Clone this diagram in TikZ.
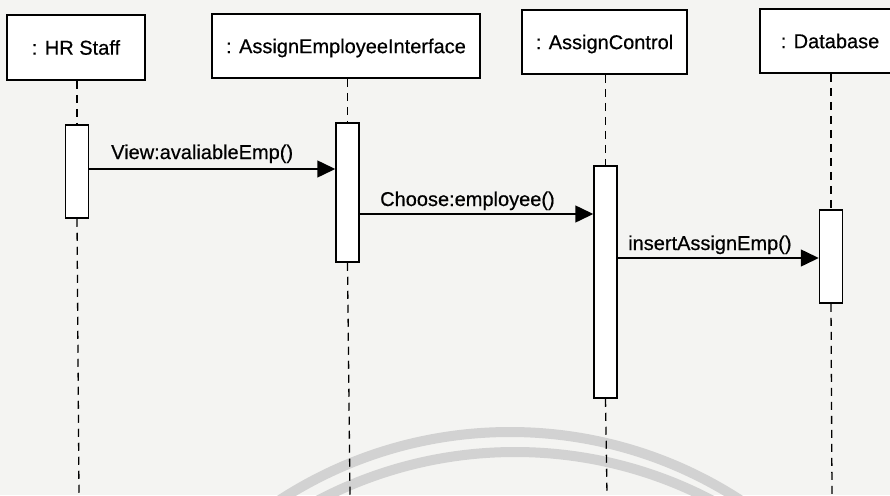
\documentclass[tikz,border=0pt]{standalone}
\usepackage{fontspec}
\setmainfont[FakeBold=0.5]{Liberation Sans}
\usetikzlibrary{arrows.meta}
\definecolor{paper}{RGB}{244,244,242}
\definecolor{wmark}{RGB}{210,210,210}
\begin{document}
\begin{tikzpicture}[x=1pt,y=-1pt,
  obj/.style={draw,line width=1.5pt,fill=white,inner sep=0pt,text height=14.3pt,text depth=0pt,font=\fontsize{20}{24}\selectfont},
  act/.style={draw,line width=1.5pt,fill=white,minimum width=23pt,inner sep=0pt},
  life/.style={line width=1.3pt,dash pattern=on 8pt off 6pt},
  msg/.style={line width=1.5pt,-{Triangle[length=18pt,width=17pt]}},
  lbl/.style={anchor=base west,inner sep=0pt,font=\fontsize{20}{24}\selectfont},
  wm/.style={line width=10pt,color=wmark}]
\useasboundingbox (0,0) rectangle (890,495);
\clip (0,0) rectangle (890,495);
\fill[paper] (0,0) rectangle (890,495);
% watermark arcs
\draw[wm] (510,855) circle (423pt);
\draw[wm] (515,876) circle (424pt);
% objects
\node[obj,minimum width=138pt,minimum height=65pt] (hr) at (76,47.5) {: HR Staff};
\node[obj,minimum width=268pt,minimum height=64pt] (aei) at (346,46) {: AssignEmployeeInterface};
\node[obj,minimum width=165pt,minimum height=64pt] (ac) at (604.5,42) {: AssignControl};
\node[obj,minimum width=140pt,minimum height=64pt] (db) at (830,41) {: Database};
% activations
\node[act,minimum height=93pt] (a1) at (77,171.5) {};
\node[act,minimum height=139pt] (a2) at (347.5,192.5) {};
\node[act,minimum height=232pt] (a3) at (605.5,282) {};
\node[act,minimum height=93pt] (a4) at (831,256.5) {};
% bottom ends of lifelines
\coordinate (e1) at (79,495);
\coordinate (e2) at (350,495);
\coordinate (e3) at (607,495);
\coordinate (e4) at (832,495);
% lifelines
\draw[life] (a1.north |- hr.south) -- (a1.north);
\draw[life] (a1.south) -- (e1);
\draw[life] (a2.north |- aei.south) -- (a2.north);
\draw[life] (a2.south) -- (e2);
\draw[life] (a3.north |- ac.south) -- (a3.north);
\draw[life] (a3.south) -- (e3);
\draw[life] (a4.north |- db.south) -- (a4.north);
\draw[life] (a4.south) -- (e4);
% messages
\coordinate (m1) at (0,169);
\coordinate (m2) at (0,214);
\coordinate (m3) at (0,258);
\draw[msg] (a1.east |- m1) -- (a2.west |- m1);
\draw[msg] (a2.east |- m2) -- (a3.west |- m2);
\draw[msg] (a3.east |- m3) -- (a4.west |- m3);
\node[lbl] (l1) at (111,159) {View:avaliableEmp()};
\node[lbl] (l2) at (380,206) {Choose:employee()};
\node[lbl] (l3) at (628,250) {insertAssignEmp()};
\end{tikzpicture}
\end{document}
